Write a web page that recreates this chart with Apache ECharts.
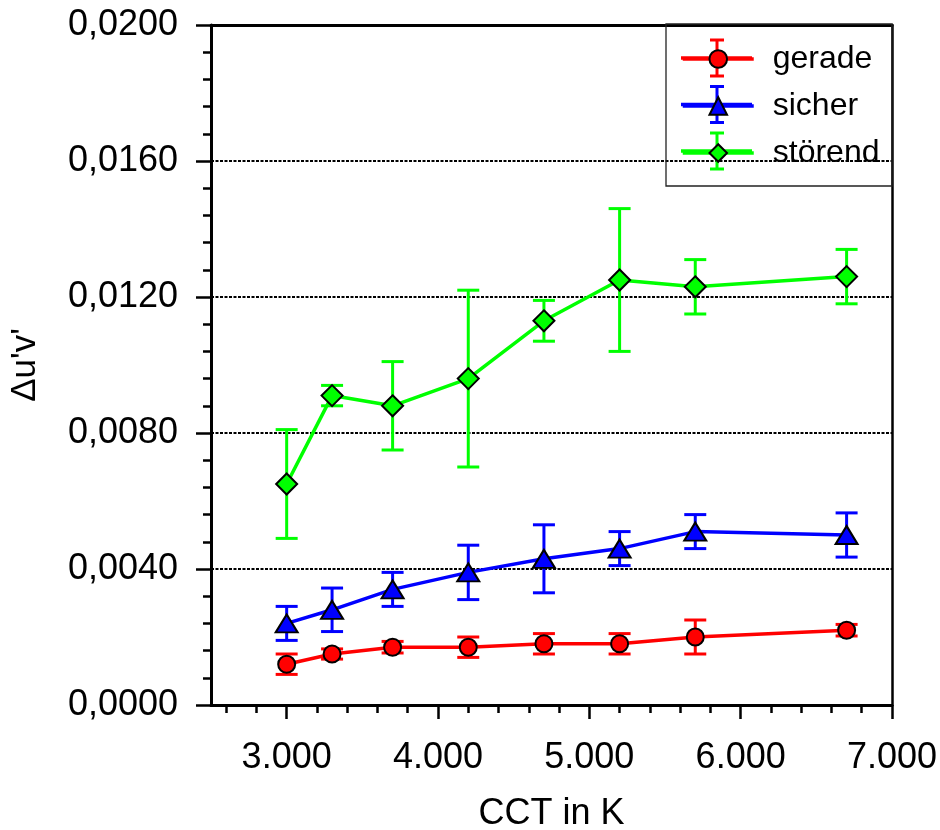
<!DOCTYPE html>
<html>
<head>
<meta charset="utf-8">
<script src="https://cdn.jsdelivr.net/npm/echarts@6/dist/echarts.min.js"></script>
<style>html,body{margin:0;padding:0;background:#fff;}#c{width:940px;height:830px;}</style>
</head>
<body>
<div id="c"></div>
<script>
// ---- data ----
const cct = [3000, 3300, 3700, 4200, 4700, 5200, 5700, 6700];
const gerade = [0.0012, 0.0015, 0.0017, 0.0017, 0.0018, 0.0018, 0.0020, 0.0022];
const geradeErr = [0.0003, 0.00015, 0.00017, 0.0003, 0.0003, 0.0003, 0.0005, 0.00017];
const sicher = [0.0024, 0.0028, 0.0034, 0.0039, 0.0043, 0.0046, 0.0051, 0.0050];
const sicherErr = [0.0005, 0.00064, 0.0005, 0.0008, 0.001, 0.0005, 0.0005, 0.00065];
const stoerend = [0.0065, 0.0091, 0.0088, 0.0096, 0.0113, 0.0125, 0.0123, 0.0126];
const stoerendErr = [0.0016, 0.0003, 0.0013, 0.0026, 0.0006, 0.0021, 0.0008, 0.0008];
const seriesNames = ['gerade', 'sicher', 'störend'];
const xMajorTicks = [3000, 4000, 5000, 6000, 7000];
const xMinorTicks = [2600, 2800, 3200, 3400, 3600, 3800, 4200, 4400, 4600, 4800,
                     5200, 5400, 5600, 5800, 6200, 6400, 6600, 6800];
const xTitle = 'CCT in K';
const yTitle = "\u0394u'v'";

const FONT = '"Liberation Sans", Arial, sans-serif';
const chart = echarts.init(document.getElementById('c'), null, {renderer: 'canvas'});

function pairs(vals) { return cct.map((x, i) => [x, vals[i]]); }
function errData(vals, errs) { return cct.map((x, i) => [x, vals[i] - errs[i], vals[i] + errs[i]]); }

function errorSeries(name, vals, errs, color) {
  return {
    type: 'custom', name: name + ' Fehler', z: 1,
    xAxisIndex: 0, yAxisIndex: 0,
    encode: {x: 0, y: [1, 2]},
    data: errData(vals, errs),
    renderItem: function (params, api) {
      const x = api.value(0), lo = api.value(1), hi = api.value(2);
      const pT = api.coord([x, hi]), pB = api.coord([x, lo]);
      const hw = 11;
      const st = {stroke: color, lineWidth: 3};
      return {type: 'group', children: [
        {type: 'line', shape: {x1: pT[0], y1: pT[1], x2: pB[0], y2: pB[1]}, style: st},
        {type: 'line', shape: {x1: pT[0] - hw, y1: pT[1], x2: pT[0] + hw, y2: pT[1]}, style: st},
        {type: 'line', shape: {x1: pB[0] - hw, y1: pB[1], x2: pB[0] + hw, y2: pB[1]}, style: st}
      ]};
    }
  };
}
function lineSeries(name, vals, color, symbol, size) {
  return {
    type: 'line', name: name, z: 3,
    xAxisIndex: 0, yAxisIndex: 0,
    data: pairs(vals),
    symbol: symbol, symbolSize: size,
    lineStyle: {color: color, width: 3.5},
    itemStyle: {color: color, borderColor: '#000', borderWidth: 2},
    emphasis: {disabled: true},
    animation: false
  };
}

const legendCenters = [58, 104.5, 151];
const legendColors = ['#ff0000', '#0000ff', '#00ff00'];
const legendGraphics = [{
  type: 'rect', shape: {x: 666, y: 24, width: 226, height: 162},
  style: {fill: 'none', stroke: '#222', lineWidth: 1.3}, z: 3
}];
legendCenters.forEach((cy, i) => {
  const st = {stroke: legendColors[i], lineWidth: 3};
  legendGraphics.push(
    {type: 'line', shape: {x1: 681, y1: cy, x2: 752, y2: cy}, style: {stroke: legendColors[i], lineWidth: 3.5}, z: 3},
    {type: 'line', shape: {x1: 717, y1: cy - 18, x2: 717, y2: cy + 18}, style: st, z: 3},
    {type: 'line', shape: {x1: 710, y1: cy - 18, x2: 724, y2: cy - 18}, style: st, z: 3},
    {type: 'line', shape: {x1: 710, y1: cy + 18, x2: 724, y2: cy + 18}, style: st, z: 3}
  );
});

const option = {
  animation: false,
  backgroundColor: '#fff',
  textStyle: {fontFamily: FONT},
  grid: {left: 211, right: 48, top: 25, bottom: 125, containLabel: false, outerBoundsMode: 'none'},
  legend: {
    orient: 'vertical', left: 681, top: 41, padding: 0,
    data: seriesNames,
    itemWidth: 71, itemHeight: 22, itemGap: 11,
    lineStyle: {width: 3.5},
    textStyle: {fontSize: 32, color: '#000', fontFamily: FONT, padding: [0, 0, 0, 14], lineHeight: 36},
    selectedMode: false
  },
  graphic: legendGraphics,
  xAxis: [
    {
      type: 'value', min: 2500, max: 7000, position: 'bottom',
      name: xTitle, nameLocation: 'middle', nameGap: 91,
      nameTextStyle: {fontSize: 36, color: '#000', fontFamily: FONT},
      axisLine: {show: true, onZero: false, lineStyle: {color: '#000', width: 3}},
      axisTick: {show: true, customValues: xMajorTicks, length: 14, lineStyle: {color: '#000', width: 2.5}},
      axisLabel: {show: true, customValues: xMajorTicks, margin: 35, fontSize: 36, color: '#000', fontFamily: FONT,
        formatter: v => String(v).replace(/\B(?=(\d{3})+(?!\d))/g, '.')},
      splitLine: {show: false}
    },
    {
      type: 'value', min: 2500, max: 7000, position: 'bottom', gridIndex: 0,
      axisLine: {show: false, onZero: false},
      axisTick: {show: true, customValues: xMinorTicks, length: 8, lineStyle: {color: '#000', width: 2.5}},
      axisLabel: {show: false},
      splitLine: {show: false}
    },
    {
      type: 'value', min: 2500, max: 7000, position: 'top', gridIndex: 0,
      axisLine: {show: true, onZero: false, lineStyle: {color: '#000', width: 3}},
      axisTick: {show: false}, axisLabel: {show: false}, splitLine: {show: false}
    }
  ],
  yAxis: [
    {
      type: 'value', min: 0, max: 0.02, interval: 0.004, position: 'left',
      name: yTitle, nameLocation: 'middle', nameGap: 168,
      nameTextStyle: {fontSize: 35, color: '#000', fontFamily: FONT},
      axisLine: {show: true, onZero: false, lineStyle: {color: '#000', width: 3}},
      axisTick: {show: true, length: 15, lineStyle: {color: '#000', width: 2.5}},
      minorTick: {show: true, splitNumber: 5, length: 8, lineStyle: {color: '#000', width: 2.5}},
      axisLabel: {show: true, margin: 33, fontSize: 36, color: '#000', fontFamily: FONT,
        formatter: v => v.toFixed(4).replace('.', ',')},
      splitLine: {show: true, showMinLine: false, showMaxLine: false,
        lineStyle: {color: '#000', width: 2, type: [3, 1.5]}},
      minorSplitLine: {show: false}
    },
    {
      type: 'value', min: 0, max: 0.02, interval: 0.004, position: 'right',
      axisLine: {show: true, onZero: false, lineStyle: {color: '#000', width: 2.5}},
      axisTick: {show: false}, axisLabel: {show: false}, splitLine: {show: false}
    }
  ],
  series: [
    errorSeries('gerade', gerade, geradeErr, '#ff0000'),
    errorSeries('sicher', sicher, sicherErr, '#0000ff'),
    errorSeries('störend', stoerend, stoerendErr, '#00ff00'),
    lineSeries('gerade', gerade, '#ff0000', 'circle', 17),
    lineSeries('sicher', sicher, '#0000ff', 'triangle', [22, 18]),
    lineSeries('störend', stoerend, '#00ff00', 'diamond', 21)
  ]
};
chart.setOption(option);
</script>
</body>
</html>
